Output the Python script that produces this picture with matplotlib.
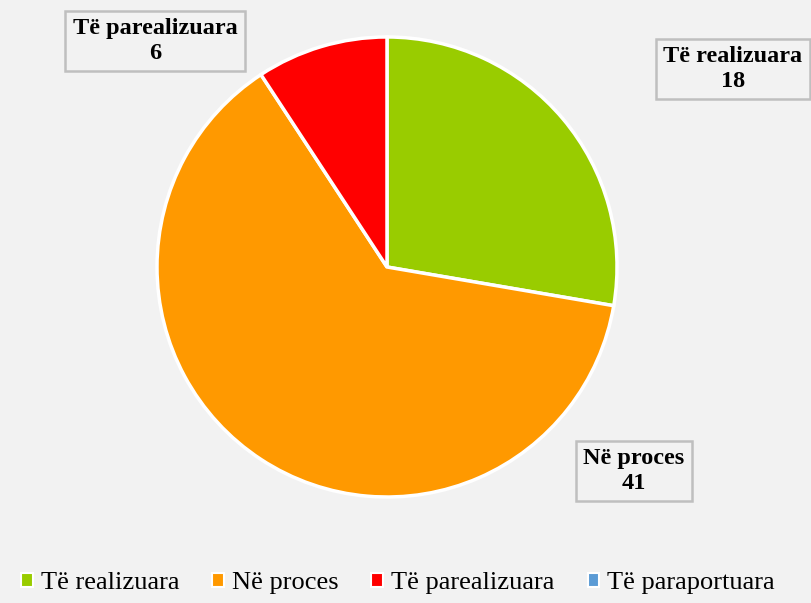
import matplotlib
matplotlib.use("Agg")
import matplotlib.pyplot as plt
from matplotlib.patches import Patch

# te dhenat
kategorite = ["Të realizuara", "Në proces", "Të parealizuara", "Të paraportuara"]
vlerat = [18, 41, 6, 0]
ngjyrat = ["#99cc00", "#ff9900", "#ff0000", "#5b9bd5"]

plt.rcParams["font.family"] = ["Liberation Serif", "DejaVu Serif"]
bg = "#f2f2f2"

fig = plt.figure(figsize=(8.12, 6.03), dpi=100, facecolor=bg)
ax = fig.add_axes([0, 0, 1, 1])
ax.set_facecolor(bg)

# vetem pjeset me vlere
idx = [i for i, v in enumerate(vlerat) if v > 0]
wedges, _ = ax.pie([vlerat[i] for i in idx], colors=[ngjyrat[i] for i in idx],
                   startangle=90, counterclock=False, radius=230,
                   center=(387, 336), explode=[0.02, 0, 0.02],
                   wedgeprops=dict(edgecolor="white", linewidth=2.5), frame=True)
ax.set_xlim(0, 812)
ax.set_ylim(0, 603)
ax.axis("off")

# etiketat me kuti
pozicionet = {0: (733, 534), 1: (634, 132), 2: (155, 562)}
for i, (x, y) in pozicionet.items():
    ax.text(x, y, f"{kategorite[i]}\n{vlerat[i]}", ha="center", va="center",
            fontsize=17.5, fontweight="bold", linespacing=1.25,
            bbox=dict(boxstyle="square,pad=0.3", facecolor=bg,
                      edgecolor="#bfbfbf", linewidth=1.8))

handles = [Patch(facecolor=c, edgecolor="white", linewidth=1.5) for c in ngjyrat]
fig.legend(handles, kategorite, loc="lower center", ncol=4, frameon=False,
           fontsize=19, handlelength=0.45, handleheight=0.45, handletextpad=0.3,
           columnspacing=1.25, bbox_to_anchor=(0.49, -0.025))

fig.savefig("out.png", dpi=100, facecolor=bg)
